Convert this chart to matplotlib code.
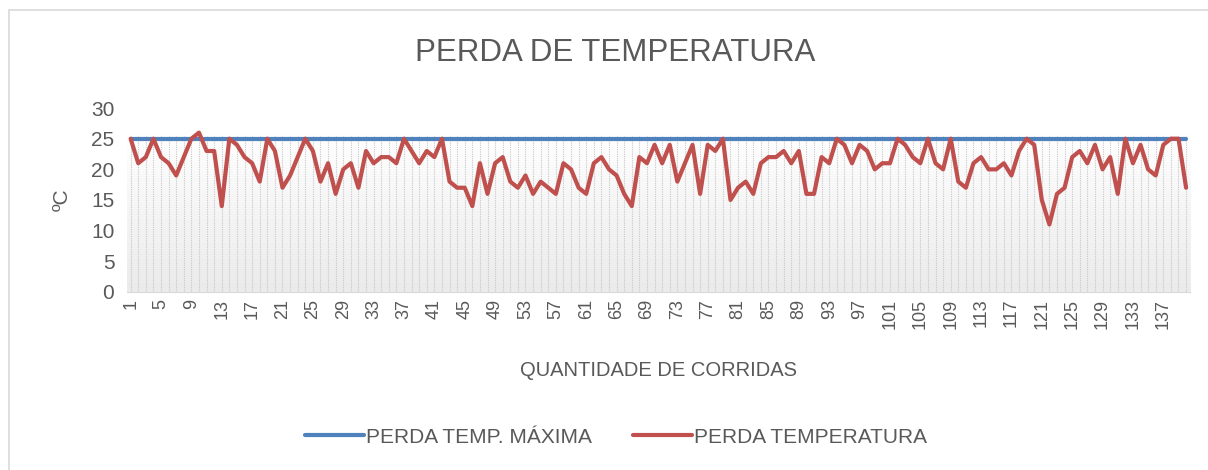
import numpy as np
import matplotlib.pyplot as plt
from matplotlib.patches import Rectangle
from matplotlib.colors import LinearSegmentedColormap

# dados
corridas = list(range(1, 141))
perda_temp = [25, 21, 22, 25, 22, 21, 19, 22, 25, 26,
              23, 23, 14, 25, 24, 22, 21, 18, 25, 23,
              17, 19, 22, 25, 23, 18, 21, 16, 20, 21,
              17, 23, 21, 22, 22, 21, 25, 23, 21, 23,
              22, 25, 18, 17, 17, 14, 21, 16, 21, 22,
              18, 17, 19, 16, 18, 17, 16, 21, 20, 17,
              16, 21, 22, 20, 19, 16, 14, 22, 21, 24,
              21, 24, 18, 21, 24, 16, 24, 23, 25, 15,
              17, 18, 16, 21, 22, 22, 23, 21, 23, 16,
              16, 22, 21, 25, 24, 21, 24, 23, 20, 21,
              21, 25, 24, 22, 21, 25, 21, 20, 25, 18,
              17, 21, 22, 20, 20, 21, 19, 23, 25, 24,
              15, 11, 16, 17, 22, 23, 21, 24, 20, 22,
              16, 25, 21, 24, 20, 19, 24, 25, 25, 17]
perda_max = [25] * 140
xticks = list(range(1, 141, 4))

cinza = "#595959"
plt.rcParams['font.family'] = ['Liberation Sans', 'DejaVu Sans']

fig = plt.figure(figsize=(12.08, 4.70), dpi=100)
ax = fig.add_axes([0.105, 0.379, 0.880, 0.391])

# borda da area do grafico
fig.patches.append(Rectangle((9/1208, -0.1), 1.1, 1 - 10/470 + 0.1, transform=fig.transFigure,
                             fill=False, edgecolor="#d9d9d9", lw=1.2))

# fundo com gradiente e linhas verticais
grad = np.linspace(1, 0, 100).reshape(-1, 1)
cmap = LinearSegmentedColormap.from_list("g", ["#ebebeb", "#ffffff"])
ax.imshow(grad, extent=[0.5, 140.5, 0, 26.4], aspect='auto', cmap=cmap, origin='upper', zorder=0)
ax.vlines(corridas, 0, 25.5, colors="#c8c8c8", linestyles=(0, (1, 1)), lw=0.8, zorder=1)

ax.plot(corridas, perda_max, color="#4F81BD", lw=3, solid_capstyle='round', label="PERDA TEMP. MÁXIMA", zorder=3)
ax.plot(corridas, perda_temp, color="#C0504D", lw=3, solid_capstyle='round', label="PERDA TEMPERATURA", zorder=4)

ax.set_xlim(0.5, 140.5)
ax.set_ylim(0, 30)
ax.set_yticks(range(0, 31, 5))
ax.set_xticks(xticks)
ax.set_xticklabels([str(t) for t in xticks], rotation=90)
ax.tick_params(length=0, colors=cinza)
ax.tick_params(axis='x', labelsize=13, pad=5)
ax.tick_params(axis='y', labelsize=15, pad=9)
for s in ["top", "right", "left"]:
    ax.spines[s].set_visible(False)
ax.spines["bottom"].set_color("#d9d9d9")

ax.set_ylabel("ºC", fontsize=15, color=cinza, labelpad=14)
fig.text(0.545, 0.212, "QUANTIDADE DE CORRIDAS", ha='center', va='center', fontsize=14.5, color=cinza)
fig.text(0.509, 0.887, "PERDA DE TEMPERATURA", ha='center', va='center', fontsize=22.5, color=cinza)

fig.legend(loc='center', bbox_to_anchor=(0.51, 0.07), ncol=2, frameon=False, fontsize=15,
           handlelength=2.8, columnspacing=2.0, handletextpad=0.1, labelcolor=cinza)

fig.savefig("out.png", dpi=100)
